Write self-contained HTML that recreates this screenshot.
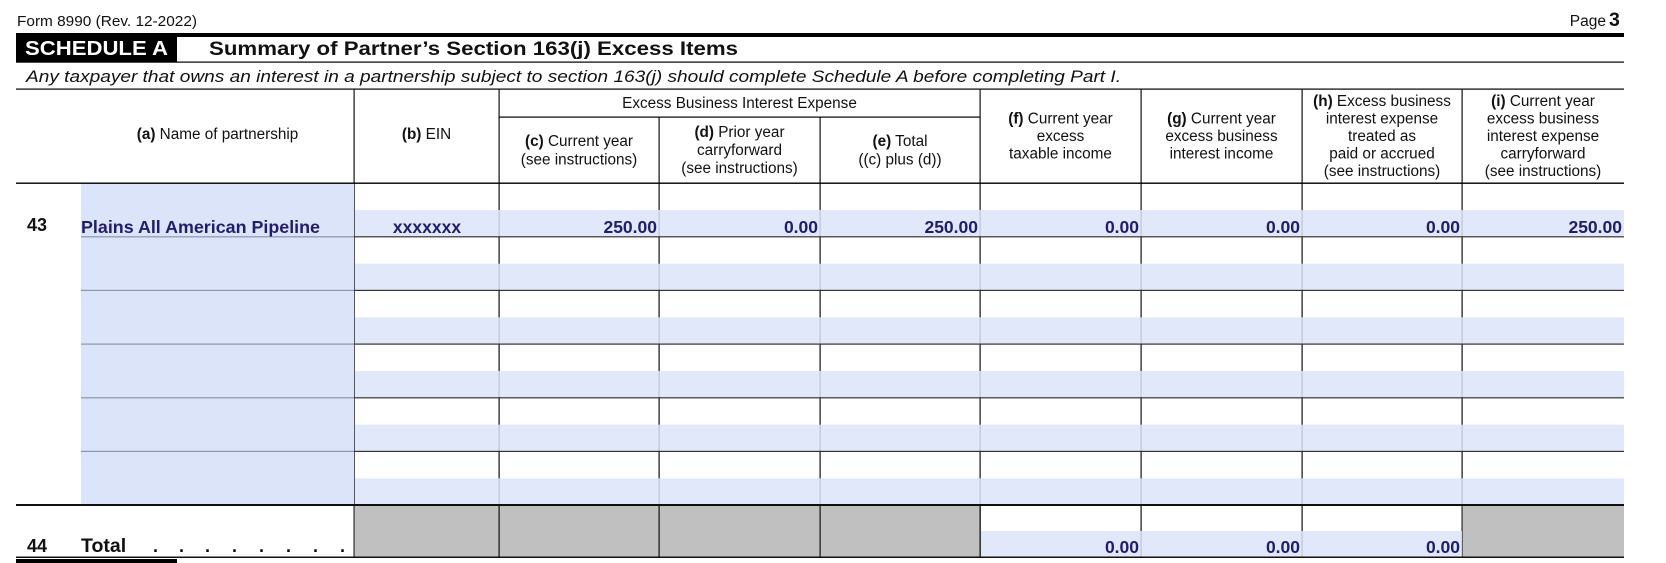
<!DOCTYPE html>
<html>
<head>
<meta charset="utf-8">
<style>
  html,body{margin:0;padding:0;background:#fff;}
  svg{display:block;}
  text{font-family:"Liberation Sans", Arial, sans-serif;}
</style>
</head>
<body>
<svg width="1666" height="563" viewBox="0 0 1666 563" xmlns="http://www.w3.org/2000/svg">
  <rect x="0" y="0" width="1666" height="563" fill="#fff"/>

  <!-- Top header -->
  <text x="17" y="26" font-size="15" fill="#111" textLength="180" lengthAdjust="spacingAndGlyphs">Form 8990 (Rev. 12-2022)</text>
  <text x="1606" y="26" font-size="15.5" fill="#111" text-anchor="end">Page</text>
  <text x="1609" y="26" font-size="19.5" font-weight="bold" fill="#111">3</text>

  <rect x="16" y="33" width="1608" height="4" fill="#000"/>
  <rect x="16" y="33" width="161" height="29" fill="#000"/>
  <text x="25" y="55" font-size="20.5" font-weight="bold" fill="#fff" textLength="143" lengthAdjust="spacingAndGlyphs">SCHEDULE A</text>
  <text x="209" y="55" font-size="19.5" font-weight="bold" fill="#111" textLength="529" lengthAdjust="spacingAndGlyphs">Summary of Partner’s Section 163(j) Excess Items</text>
  <rect x="16" y="61.5" width="1608" height="1.2" fill="#000"/>

  <text x="26" y="82" font-size="17" font-style="italic" fill="#111" textLength="1095" lengthAdjust="spacingAndGlyphs">Any taxpayer that owns an interest in a partnership subject to section 163(j) should complete Schedule A before completing Part I.</text>
  <rect x="16" y="88.5" width="1608" height="1.2" fill="#000"/>

  <!-- Vertical lines (drawn under the blue overlay) -->
  <g fill="#111">
    <rect x="353.5" y="89" width="1.2" height="469"/>
    <rect x="498.5" y="89" width="1.2" height="469"/>
    <rect x="658.5" y="117" width="1.2" height="441"/>
    <rect x="819.5" y="117" width="1.2" height="441"/>
    <rect x="979.5" y="89" width="1.2" height="469"/>
    <rect x="1140.5" y="89" width="1.2" height="469"/>
    <rect x="1301.5" y="89" width="1.2" height="469"/>
    <rect x="1461.5" y="89" width="1.2" height="469"/>
  </g>

  <!-- Blue fill: name column -->
  <rect x="81" y="183" width="273" height="322" fill="#dce4f9"/>

  <!-- Blue bands in columns b-i for 6 rows (slightly translucent so lines show greyish) -->
  <g fill="#dce4f9" fill-opacity="0.85">
    <rect x="355" y="210" width="1269" height="26.2"/>
    <rect x="355" y="263.7" width="1269" height="26.1"/>
    <rect x="355" y="317.3" width="1269" height="26.2"/>
    <rect x="355" y="371" width="1269" height="26.2"/>
    <rect x="355" y="424.7" width="1269" height="26.1"/>
    <rect x="355" y="478.3" width="1269" height="25.7"/>
    <!-- total row blue bands f,g,h -->
    <rect x="981" y="531" width="481" height="25.5"/>
  </g>
  <!-- Gray in total row -->
  <g fill="#c0c0c0">
    <rect x="354.7" y="505" width="625" height="51.5"/>
    <rect x="1462.7" y="505" width="161.3" height="51.5"/>
  </g>
  <g fill="#111">
    <rect x="498.5" y="505" width="1.2" height="53"/>
    <rect x="658.5" y="505" width="1.2" height="53"/>
    <rect x="819.5" y="505" width="1.2" height="53"/>
    <rect x="979.5" y="505" width="1.2" height="53"/>
  </g>

  <!-- Header sub line -->
  <rect x="499" y="116.5" width="481" height="1.2" fill="#000"/>
  <!-- Header bottom -->
  <rect x="16" y="182.5" width="1608" height="1.4" fill="#000"/>

  <!-- Row lines in name column (gray) -->
  <g fill="#8a96b4">
    <rect x="81" y="236.2" width="273" height="1.2"/>
    <rect x="81" y="289.8" width="273" height="1.2"/>
    <rect x="81" y="343.5" width="273" height="1.2"/>
    <rect x="81" y="397.2" width="273" height="1.2"/>
    <rect x="81" y="450.8" width="273" height="1.2"/>
  </g>
  <!-- Row lines in columns b-i -->
  <g fill="#333">
    <rect x="354" y="236.2" width="1270" height="1.2"/>
    <rect x="354" y="289.8" width="1270" height="1.2"/>
    <rect x="354" y="343.5" width="1270" height="1.2"/>
    <rect x="354" y="397.2" width="1270" height="1.2"/>
    <rect x="354" y="450.8" width="1270" height="1.2"/>
  </g>
  <!-- Thick line above total -->
  <rect x="16" y="504" width="1608" height="2" fill="#111"/>
  <!-- Bottom line -->
  <rect x="16" y="556.5" width="1608" height="1.5" fill="#111"/>
  <rect x="16" y="559" width="161" height="4" fill="#000"/>

  <!-- Column headers -->
  <g font-size="15.3" fill="#111" text-anchor="middle">
    <text x="217.5" y="139"><tspan font-weight="bold">(a)</tspan> Name of partnership</text>
    <text x="426.5" y="139"><tspan font-weight="bold">(b)</tspan> EIN</text>
    <text x="739.5" y="108">Excess Business Interest Expense</text>

    <text x="579" y="146"><tspan font-weight="bold">(c)</tspan> Current year</text>
    <text x="579" y="164.5">(see instructions)</text>

    <text x="739.5" y="137"><tspan font-weight="bold">(d)</tspan> Prior year</text>
    <text x="739.5" y="155">carryforward</text>
    <text x="739.5" y="173">(see instructions)</text>

    <text x="900" y="146"><tspan font-weight="bold">(e)</tspan> Total</text>
    <text x="900" y="164.5">((c) plus (d))</text>

    <text x="1060.5" y="123.5"><tspan font-weight="bold">(f)</tspan> Current year</text>
    <text x="1060.5" y="141">excess</text>
    <text x="1060.5" y="158.5">taxable income</text>

    <text x="1221.5" y="123.5"><tspan font-weight="bold">(g)</tspan> Current year</text>
    <text x="1221.5" y="141">excess business</text>
    <text x="1221.5" y="158.5">interest income</text>

    <text x="1382" y="106"><tspan font-weight="bold">(h)</tspan> Excess business</text>
    <text x="1382" y="123.5">interest expense</text>
    <text x="1382" y="141">treated as</text>
    <text x="1382" y="158.5">paid or accrued</text>
    <text x="1382" y="176">(see instructions)</text>

    <text x="1543" y="106"><tspan font-weight="bold">(i)</tspan> Current year</text>
    <text x="1543" y="123.5">excess business</text>
    <text x="1543" y="141">interest expense</text>
    <text x="1543" y="158.5">carryforward</text>
    <text x="1543" y="176">(see instructions)</text>
  </g>

  <!-- Row 43 -->
  <text x="27" y="231" font-size="18" font-weight="bold" fill="#111">43</text>
  <text x="81" y="233" font-size="17.8" font-weight="bold" fill="#1e1e6e" textLength="239" lengthAdjust="spacingAndGlyphs">Plains All American Pipeline</text>
  <text x="427" y="233" font-size="17.5" font-weight="bold" fill="#1e1e6e" text-anchor="middle">xxxxxxx</text>
  <g font-size="17.5" font-weight="bold" fill="#1e1e6e" text-anchor="end">
    <text x="657" y="233">250.00</text>
    <text x="818" y="233">0.00</text>
    <text x="978" y="233">250.00</text>
    <text x="1139" y="233">0.00</text>
    <text x="1300" y="233">0.00</text>
    <text x="1460" y="233">0.00</text>
    <text x="1622" y="233">250.00</text>
  </g>

  <!-- Total row -->
  <text x="27" y="552" font-size="18" font-weight="bold" fill="#111">44</text>
  <text x="81" y="552" font-size="19.5" font-weight="bold" fill="#111">Total</text>
  <g font-size="18" font-weight="bold" fill="#111">
    <text x="153" y="552">.</text>
    <text x="179" y="552">.</text>
    <text x="205" y="552">.</text>
    <text x="232" y="552">.</text>
    <text x="259" y="552">.</text>
    <text x="286" y="552">.</text>
    <text x="313" y="552">.</text>
    <text x="340" y="552">.</text>
  </g>
  <g font-size="17.5" font-weight="bold" fill="#1e1e6e" text-anchor="end">
    <text x="1139" y="553">0.00</text>
    <text x="1300" y="553">0.00</text>
    <text x="1460" y="553">0.00</text>
  </g>
</svg>
</body>
</html>
